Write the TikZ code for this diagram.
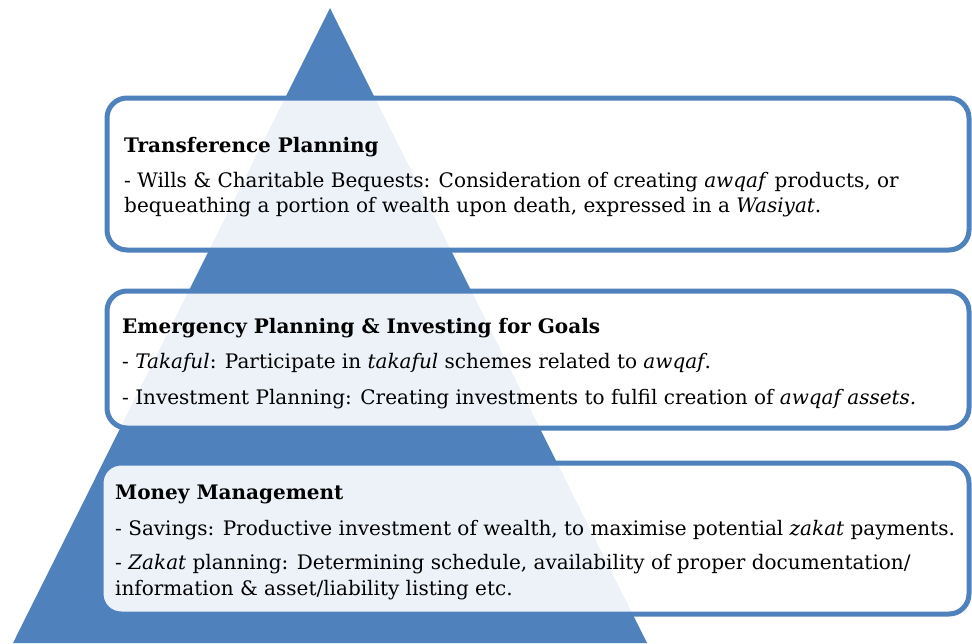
\documentclass[tikz,border=0pt]{standalone}
\usepackage{fontspec}
\setmainfont{DejaVu Serif}
\usepackage{tikz}
\definecolor{pyrblue}{HTML}{4F81BD}
\tikzset{
  % pyramide
  pyr/.style={fill=pyrblue,draw=none},
  tier/.style={draw=pyrblue,line width=5pt,fill=white,fill opacity=0.9,
               rounded corners=20pt},
  % tekst
  txt/.style={anchor=base west,inner sep=0pt,text=black,
              font=\fontsize{20}{23}\selectfont},
  head/.style={txt,font=\fontsize{20}{23}\selectfont\bfseries},
}

\begin{document}
\begin{tikzpicture}[x=1pt,y=-1pt]
  \useasboundingbox (0,0) rectangle (972,643);
  \fill[pyr] (330,8) -- (647,643) -- (13,643) -- cycle;
  \draw[tier] (107,98) rectangle (969,250);
  \draw[tier] (107,291) rectangle (969,428);
  \draw[tier] (101,463) rectangle (969,614);
  % transference
  \node[head] (th) at (124,152) {Transference Planning};
  \node[txt] (t1) at (124,187) {- Wills \& Charitable Bequests: Consideration of creating \textit{awqaf} products, or};
  \node[txt] (t2) at (124,212) {bequeathing a portion of wealth upon death, expressed in a \textit{Wasiyat}.};
  % emergency
  \node[head] (eh) at (122,333) {Emergency Planning \& Investing for Goals};
  \node[txt] (e1) at (122,368) {- \textit{Takaful}: Participate in \textit{takaful} schemes related to \textit{awqaf}.};
  \node[txt] (e2) at (122,404) {- Investment Planning: Creating investments to fulfil creation of \textit{awqaf assets.}};
  % money
  \node[head] (mh) at (115,499) {Money Management};
  \node[txt] (m1) at (115,535) {- Savings: Productive investment of wealth, to maximise potential \textit{zakat} payments.};
  \node[txt] (m2) at (115,569) {- \textit{Zakat} planning: Determining schedule, availability of proper documentation/};
  \node[txt] (m3) at (115,595) {information \& asset/liability listing etc.};
\end{tikzpicture}
\end{document}
